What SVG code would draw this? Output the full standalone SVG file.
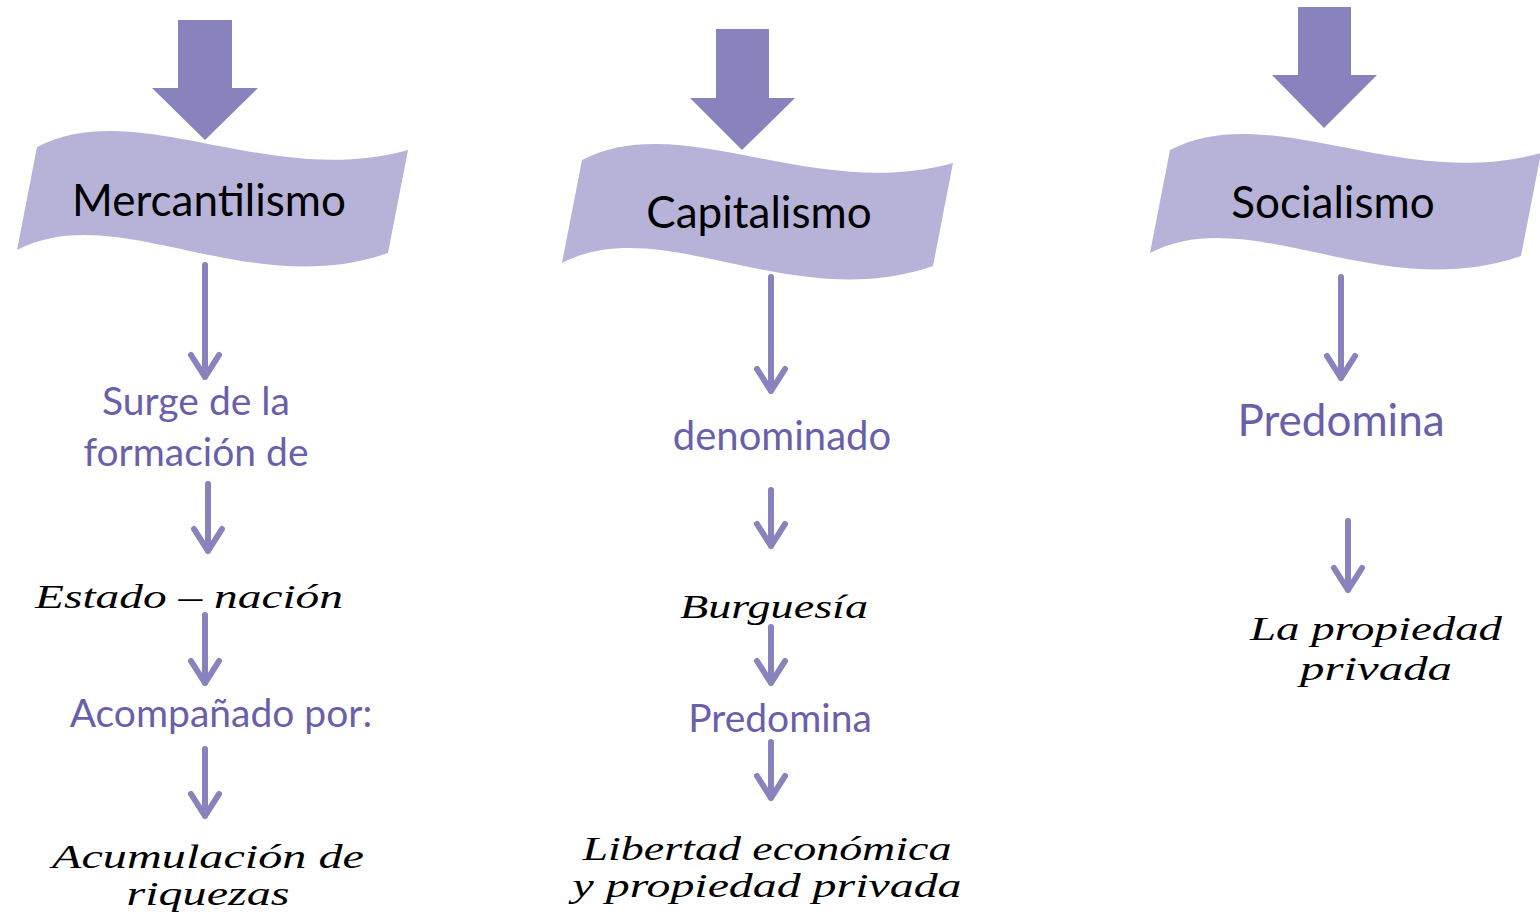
<svg xmlns="http://www.w3.org/2000/svg" width="1540" height="920" viewBox="0 0 1540 920">
<defs>
<style>
.banner{fill:#B7B3D8}
.big{fill:#8883BD}
.conn{stroke:#8883BD;stroke-width:6;fill:none;stroke-linecap:round;stroke-linejoin:round}
.title{font-family:Lato,"Liberation Sans",sans-serif;font-size:44px;fill:#000;text-anchor:middle}
.lbl{font-family:Lato,"Liberation Sans",sans-serif;font-size:39px;fill:#6A5FAA;text-anchor:middle}
.hand{font-family:"Liberation Serif",serif;font-style:italic;font-size:34px;fill:#000;text-anchor:middle}
</style>
<path id="wave" d="M0,0 C100,-52 230,42 371,3 L351,106 C210,155 80,51 -20,103 Z"/>
</defs>
<rect width="1540" height="920" fill="#fff"/>

<g id="node-mercantilismo">
<use href="#wave" class="banner" transform="translate(37,147)"/>
<text class="title" x="209" y="216">Mercantilismo</text>
</g>
<g id="node-capitalismo">
<use href="#wave" class="banner" transform="translate(582,160)"/>
<text class="title" x="759" y="228">Capitalismo</text>
</g>
<g id="node-socialismo">
<use href="#wave" class="banner" transform="translate(1170,150)"/>
<text class="title" x="1333" y="218">Socialismo</text>
</g>

<g id="big-arrows">
<polygon class="big" points="178,20 232,20 232,88 258,88 205,140 152,88 178,88"/>
<polygon class="big" points="716,29 769,29 769,98 795,98 742,150 690,98 716,98"/>
<polygon class="big" points="1298,7 1351,7 1351,75 1377,75 1324,128 1272,75 1298,75"/>
</g>

<g id="connectors">
<path class="conn" d="M205,265 V377 M191,355 L205,377 L219,355"/>
<path class="conn" d="M208,484 V551 M194,529 L208,551 L222,529"/>
<path class="conn" d="M205,615 V683 M191,661 L205,683 L219,661"/>
<path class="conn" d="M205,749 V816 M191,794 L205,816 L219,794"/>
<path class="conn" d="M771,277 V391 M757,369 L771,391 L785,369"/>
<path class="conn" d="M771,490 V546 M757,524 L771,546 L785,524"/>
<path class="conn" d="M771,627 V683 M757,661 L771,683 L785,661"/>
<path class="conn" d="M771,742 V798 M757,776 L771,798 L785,776"/>
<path class="conn" d="M1341,277 V378 M1327,356 L1341,378 L1355,356"/>
<path class="conn" d="M1348,521 V590 M1334,568 L1348,590 L1362,568"/>
</g>

<g id="node-surge">
<text class="lbl" x="196" y="415">Surge de la</text>
<text class="lbl" x="196" y="466">formación de</text>
</g>
<g id="node-estado">
<text class="hand" x="189" y="608" textLength="308" lengthAdjust="spacingAndGlyphs">Estado – nación</text>
</g>
<g id="node-acompanado">
<text class="lbl" x="221" y="727">Acompañado por:</text>
</g>
<g id="node-acumulacion">
<text class="hand" x="208" y="868" textLength="312" lengthAdjust="spacingAndGlyphs">Acumulación de</text>
<text class="hand" x="208" y="905" textLength="163" lengthAdjust="spacingAndGlyphs">riquezas</text>
</g>

<g id="node-denominado">
<text class="lbl" x="782" y="450" style="font-size:40px">denominado</text>
</g>
<g id="node-burguesia">
<text class="hand" x="774" y="618" textLength="188" lengthAdjust="spacingAndGlyphs">Burguesía</text>
</g>
<g id="node-predomina2">
<text class="lbl" x="780" y="732">Predomina</text>
</g>
<g id="node-libertad">
<text class="hand" x="767" y="860" textLength="369" lengthAdjust="spacingAndGlyphs">Libertad económica</text>
<text class="hand" x="767" y="897" textLength="389" lengthAdjust="spacingAndGlyphs">y propiedad privada</text>
</g>

<g id="node-predomina3">
<text class="lbl" x="1341" y="436" style="font-size:44px">Predomina</text>
</g>
<g id="node-propiedad">
<text class="hand" x="1376" y="640" textLength="252" lengthAdjust="spacingAndGlyphs">La propiedad</text>
<text class="hand" x="1376" y="680" textLength="152" lengthAdjust="spacingAndGlyphs">privada</text>
</g>
</svg>
